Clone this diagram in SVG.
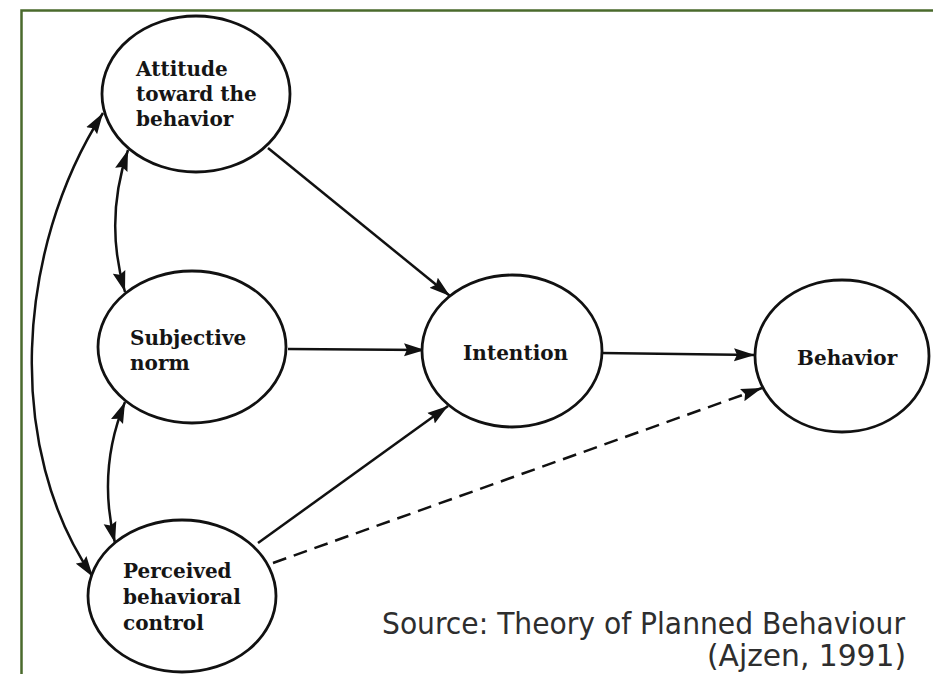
<svg xmlns="http://www.w3.org/2000/svg" width="933" height="674" viewBox="0 0 933 674">
<style>
.node ellipse{fill:#fff;stroke:#111;stroke-width:2.8}
.node text{font-family:"DejaVu Serif","Liberation Serif",serif;font-weight:bold;font-size:20px;fill:#151515}
.conn path{fill:none;stroke:#111;stroke-width:2.5}
.dash{stroke-dasharray:14 8}
.src{font-family:"DejaVu Sans Condensed","DejaVu Sans","Liberation Sans",sans-serif;font-size:30px;fill:#2e2e2e}
</style>
<defs>
<marker id="ah" markerUnits="userSpaceOnUse" markerWidth="22" markerHeight="14" refX="21" refY="7" orient="auto-start-reverse">
<path d="M0,0.5 L21,7 L0,13.5 L3,7 z" fill="#111"/>
</marker>
</defs>
<rect x="0" y="0" width="933" height="674" fill="#fff"/>
<g id="frame" stroke="#4a6a2c" stroke-width="2.5" fill="none">
<path d="M21.5,674 L21.5,10.5 L933,10.5"/>
</g>
<g id="connectors" class="conn">
<path d="M268,148 L450,296" marker-end="url(#ah)"/>
<path d="M288,349 L425,350" marker-end="url(#ah)"/>
<path d="M258,543 L448,406" marker-end="url(#ah)"/>
<path d="M601,353 L755,355" marker-end="url(#ah)"/>
<path class="dash" d="M273,563 L762,388" marker-end="url(#ah)"/>
<path d="M128,150 Q104,221 125,292" marker-start="url(#ah)" marker-end="url(#ah)"/>
<path d="M125,402 Q97,470 115,543" marker-start="url(#ah)" marker-end="url(#ah)"/>
<path d="M103,113 C15,250 5,450 93,577" marker-start="url(#ah)" marker-end="url(#ah)"/>
</g>
<g id="attitude" class="node">
<ellipse cx="196" cy="94" rx="94" ry="78"/>
<text x="136" y="76">Attitude</text>
<text x="136" y="101">toward the</text>
<text x="136" y="126">behavior</text>
</g>
<g id="subjective-norm" class="node">
<ellipse cx="192" cy="347" rx="94" ry="76"/>
<text x="130" y="345">Subjective</text>
<text x="130" y="370">norm</text>
</g>
<g id="pbc" class="node">
<ellipse cx="182" cy="596" rx="94" ry="76"/>
<text x="123" y="578">Perceived</text>
<text x="123" y="604">behavioral</text>
<text x="123" y="630">control</text>
</g>
<g id="intention" class="node">
<ellipse cx="512" cy="351" rx="90" ry="76"/>
<text x="463" y="360">Intention</text>
</g>
<g id="behavior" class="node">
<ellipse cx="842" cy="356" rx="87" ry="76"/>
<text x="797" y="365">Behavior</text>
</g>
<g id="source">
<text class="src" x="382" y="634" textLength="523" lengthAdjust="spacingAndGlyphs">Source: Theory of Planned Behaviour</text>
<text class="src" x="707" y="666" textLength="199" lengthAdjust="spacingAndGlyphs">(Ajzen, 1991)</text>
</g>
</svg>
